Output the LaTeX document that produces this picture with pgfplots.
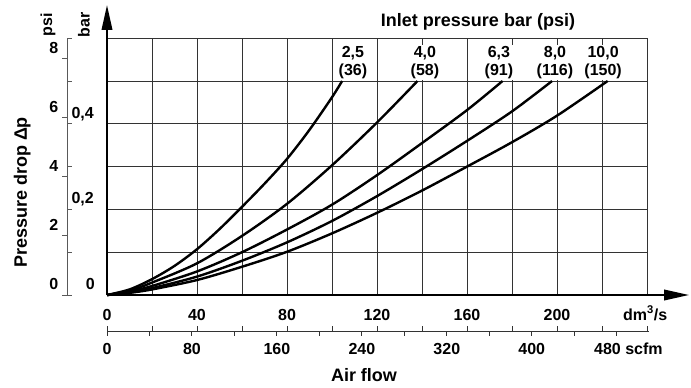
\documentclass[border=0pt]{standalone}
\usepackage{fontspec}
\setmainfont{Liberation Sans}
\usepackage{pgfplots}
\pgfplotsset{compat=1.18}
\usetikzlibrary{arrows.meta}
\newcommand{\fs}[1]{\fontsize{#1}{#1}\selectfont}
\begin{document}
\begin{tikzpicture}[font=\bfseries\fs{16}]
\useasboundingbox (0,0) rectangle (691pt,-388pt);
\begin{axis}[
  at={(107pt,-295pt)}, anchor=origin,
  x=2.25pt, y=428pt,
  xmin=0, xmax=240, ymin=0, ymax=0.6,
  axis line style={draw=none},
  xtick={0,20,40,60,80,100,120,140,160,180,200,220,240},
  ytick={0,0.1,0.2,0.3,0.4,0.5,0.6},
  xticklabels={}, yticklabels={},
  tick label style={text opacity=0, font=\tiny},
  major tick length=0pt,
  grid=major, grid style={black!80, line width=1pt},
  clip=false,
]
% 2,5 bar (36 psi)
\addplot[black, line width=2.4pt, smooth] coordinates {
 (0,0) (10,0.013) (20,0.037) (30,0.068) (40,0.107) (50,0.154) (60,0.206)
 (70,0.26) (80,0.318) (90,0.386) (100,0.462) (104.5,0.5)};
% 4,0 bar (58 psi)
\addplot[black, line width=2.4pt, smooth] coordinates {
 (0,0) (10,0.01) (20,0.029) (40,0.074) (60,0.138) (80,0.213) (100,0.303)
 (120,0.403) (138,0.5)};
% 6,3 bar (91 psi)
\addplot[black, line width=2.4pt, smooth] coordinates {
 (0,0) (10,0.008) (20,0.021) (40,0.055) (60,0.1) (80,0.153) (100,0.211)
 (120,0.28) (140,0.355) (160,0.432) (175.8,0.5)};
% 8,0 bar (116 psi)
\addplot[black, line width=2.4pt, smooth] coordinates {
 (0,0) (10,0.006) (20,0.016) (40,0.043) (60,0.08) (80,0.123) (100,0.173)
 (120,0.231) (140,0.294) (160,0.36) (180,0.429) (197.8,0.5)};
% 10,0 bar (150 psi)
\addplot[black, line width=2.4pt, smooth] coordinates {
 (0,0) (10,0.005) (20,0.013) (40,0.035) (60,0.066) (80,0.101) (100,0.144)
 (120,0.192) (140,0.244) (160,0.3) (180,0.357) (200,0.419) (222.5,0.5)};
% axis arrows
\draw[black, line width=2pt, -{Triangle[length=25pt,width=10.5pt]}] (axis cs:0,0) -- (axis cs:0,0.6776);
\draw[black, line width=2pt, -{Triangle[length=25pt,width=10.5pt]}] (axis cs:0,0) -- (axis cs:258.7,0);
% curve labels
\tikzset{cl/.style={fill=white, inner sep=1pt, align=center, anchor=south, font=\bfseries\fontsize{16}{18}\selectfont}}
\node[cl] at (axis cs:109.3,0.503) {2,5\\(36)};
\node[cl] at (axis cs:141.3,0.503) {4,0\\(58)};
\node[cl] at (axis cs:174.2,0.503) {6,3\\(91)};
\node[cl] at (axis cs:199.1,0.503) {8,0\\(116)};
\node[cl] at (axis cs:220.5,0.503) {10,0\\(150)};
\end{axis}
% title
\node[anchor=base, font=\bfseries\fs{18}] at (478pt,-26pt) {Inlet pressure bar (psi)};
% main x labels
\foreach \q in {0,40,...,200}
  \node[anchor=base, inner sep=0pt] at ({(107+2.25*\q)*1pt}, -320pt) {\q};
\node[anchor=base west, inner sep=0pt] at (623pt,-320pt) {dm\textsuperscript{3}/s};
% secondary flow scale
\draw[black!80, line width=1pt] (107pt,-331pt) -- (649pt,-331pt);
\foreach \q in {0,20,...,240}
  \draw[black!80, line width=1pt] ({(107+2.25*\q)*1pt},-331pt) -- ++(0,5pt);
\foreach \s in {0,40,...,480}
  \draw[black!80, line width=1pt] ({(107+1.0619*\s)*1pt},-331pt) -- ++(0,-5pt);
\foreach \s in {0,80,...,400}
  \node[anchor=base, inner sep=0pt] at ({(107+1.0619*\s)*1pt}, -354pt) {\s};
\node[anchor=base west, inner sep=0pt] at (594pt,-354pt) {480 scfm};
\node[anchor=base, font=\bfseries\fs{18}] at (364pt,-381.5pt) {Air flow};
% left pressure scale
\draw[black!65, line width=1pt] (67pt,-38pt) -- (67pt,-295pt);
\foreach \p in {0,2,4,6,8} {
  \draw[black!65, line width=1pt] (67pt,{-(295-29.51*\p)*1pt}) -- ++(-5pt,0);
  \node[anchor=base east, inner sep=0pt] at (58.5pt,{-(295-29.51*\p-5.5)*1pt}) {\p};
}
\foreach \b in {0,1,...,6}
  \draw[black!65, line width=1pt] (67pt,{-(295-42.8*\b)*1pt}) -- ++(5pt,0);
\node[anchor=base east, inner sep=0pt] at (95pt,{-(295-5.5)*1pt}) {0};
\node[anchor=base east, inner sep=0pt] at (94pt,{-(295-85.6-5.5)*1pt}) {0,2};
\node[anchor=base east, inner sep=0pt] at (94pt,{-(295-171.2-5.5)*1pt}) {0,4};
\node[rotate=90, inner sep=0pt] at (48pt,-25pt) {psi};
\node[rotate=90, inner sep=0pt] at (84pt,-25pt) {bar};
\node[rotate=90, anchor=base, inner sep=0pt, font=\bfseries\fs{18}] at (27pt,-192.5pt) {Pressure drop Δp};
\end{tikzpicture}
\end{document}
